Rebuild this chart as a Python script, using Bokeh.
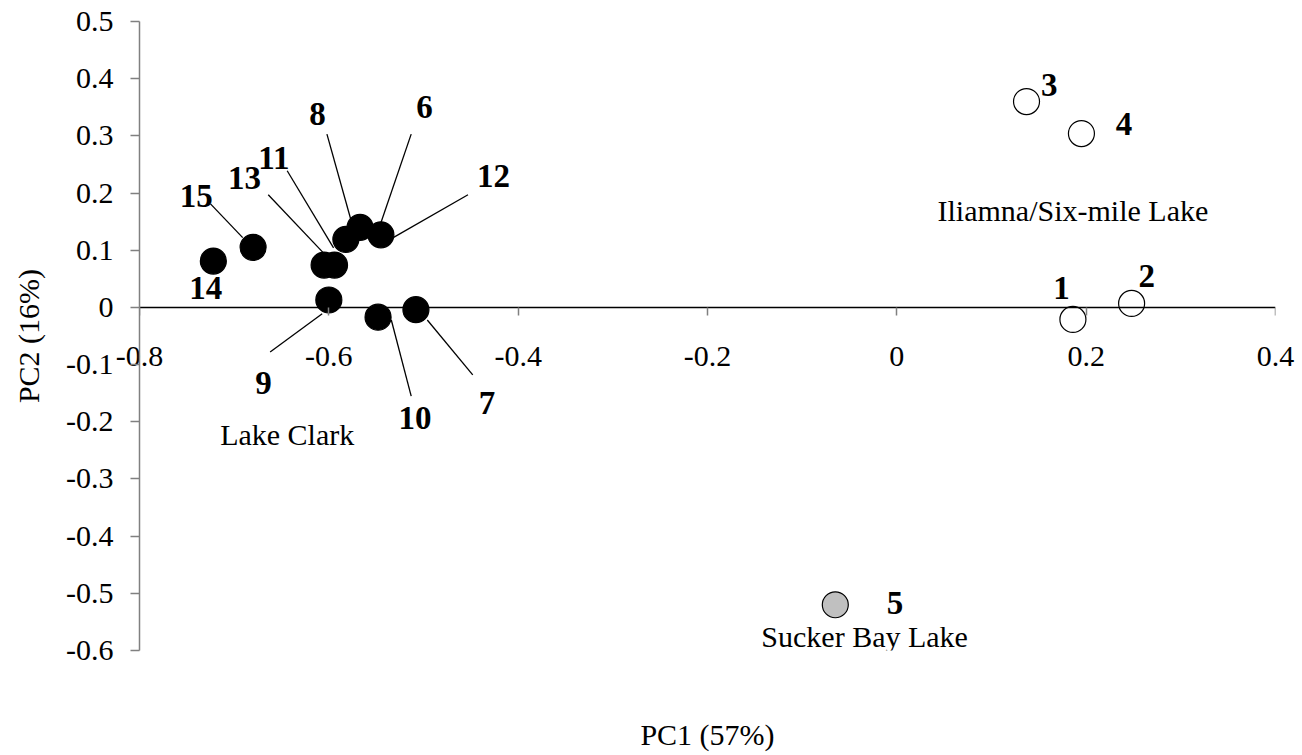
from bokeh.plotting import figure
from bokeh.models import (Range1d, LinearAxis, FixedTicker, CustomJSTickFormatter,
                          ColumnDataSource)
from bokeh.embed import file_html
from bokeh.resources import INLINE

# ---- data ----
sample_ids = ["1", "2", "3", "4", "5", "6", "7", "8", "9", "10", "11", "12", "13", "14", "15"]
pc1 = [0.186, 0.248, 0.137, 0.195, -0.065, -0.567, -0.508, -0.582, -0.600, -0.548,
       -0.594, -0.545, -0.605, -0.722, -0.680]
pc2 = [-0.021, 0.007, 0.360, 0.304, -0.520, 0.140, -0.004, 0.119, 0.013, -0.017,
       0.074, 0.127, 0.074, 0.081, 0.105]
group = ["Iliamna", "Iliamna", "Iliamna", "Iliamna", "Sucker",
         "Clark", "Clark", "Clark", "Clark", "Clark", "Clark", "Clark", "Clark", "Clark", "Clark"]

# label anchor positions (data units)
label_x = [0.174, 0.264, 0.161, 0.240, -0.002, -0.499, -0.433, -0.612, -0.669, -0.509,
           -0.658, -0.426, -0.689, -0.730, -0.740]
label_y = [0.034, 0.055, 0.389, 0.321, -0.517, 0.351, -0.167, 0.338, -0.132, -0.193,
           0.262, 0.230, 0.226, 0.034, 0.195]

# leader lines: label end -> point end
leader_ids = ["6", "7", "8", "9", "10", "11", "12", "13", "15"]
leader_x0 = [-0.513, -0.448, -0.602, -0.662, -0.513, -0.644, -0.453, -0.664, -0.725]
leader_y0 = [0.303, -0.118, 0.303, -0.078, -0.155, 0.239, 0.197, 0.197, 0.181]
leader_x1 = [-0.545, -0.496, -0.577, -0.607, -0.534, -0.595, -0.532, -0.6055, -0.691]
leader_y1 = [0.148, -0.022, 0.155, -0.011, -0.022, 0.104, 0.122, 0.095, 0.122]

group_names = ["Iliamna/Six-mile Lake", "Lake Clark", "Sucker Bay Lake"]
group_x = [0.186, -0.644, -0.034]
group_y = [0.169, -0.222, -0.575]

x_ticks = [-0.8, -0.6, -0.4, -0.2, 0.0, 0.2, 0.4]
y_ticks = [-0.6, -0.5, -0.4, -0.3, -0.2, -0.1, 0.0, 0.1, 0.2, 0.3, 0.4, 0.5]
x_title = "PC1 (57%)"
y_title = "PC2 (16%)"

FONT = "Liberation Serif"
fill_map = {"Iliamna": "white", "Sucker": "#c0c0c0", "Clark": "black"}

p = figure(frame_width=1136, frame_height=629,
           x_range=Range1d(-0.8, 0.4), y_range=Range1d(-0.6, 0.5),
           output_backend="svg", toolbar_location=None,
           x_axis_location=None, y_axis_location=None,
           min_border_left=139, min_border_right=22,
           min_border_top=21, min_border_bottom=104)
p.outline_line_color = None
p.xgrid.visible = False
p.ygrid.visible = False
p.background_fill_color = "white"
p.border_fill_color = "white"

fmt = CustomJSTickFormatter(code="return Math.abs(tick) < 1e-9 ? '0' : tick.toFixed(1);")

# ---- y axis (left edge, at x = -0.8) ----
yaxis = LinearAxis(ticker=FixedTicker(ticks=y_ticks), formatter=fmt,
                   axis_label=y_title)
yaxis.axis_line_color = "#808080"
yaxis.axis_line_width = 1.5
yaxis.major_tick_line_color = "#808080"
yaxis.major_tick_line_width = 1.5
yaxis.major_tick_out = 9
yaxis.major_tick_in = 0
yaxis.minor_tick_out = 0
yaxis.minor_tick_in = 0
yaxis.major_label_standoff = 17
yaxis.major_label_text_font = FONT
yaxis.major_label_text_font_size = "30px"
yaxis.major_label_text_color = "black"
yaxis.axis_label_text_font = FONT
yaxis.axis_label_text_font_size = "30px"
yaxis.axis_label_text_font_style = "normal"
yaxis.axis_label_text_color = "black"
yaxis.axis_label_standoff = 18
p.add_layout(yaxis, "left")

# ---- x axis tick labels + title (drawn from the frame bottom, pulled up to the y=0 line) ----
xlab = LinearAxis(ticker=FixedTicker(ticks=x_ticks), formatter=fmt, axis_label=x_title)
xlab.axis_line_color = None
xlab.major_tick_line_color = None
xlab.major_tick_out = 0
xlab.major_tick_in = 0
xlab.minor_tick_out = 0
xlab.minor_tick_in = 0
xlab.major_label_standoff = -304
xlab.major_label_text_font = FONT
xlab.major_label_text_font_size = "30px"
xlab.major_label_text_color = "black"
xlab.axis_label_text_font = FONT
xlab.axis_label_text_font_size = "30px"
xlab.axis_label_text_font_style = "normal"
xlab.axis_label_text_color = "black"
xlab.axis_label_standoff = 349
p.add_layout(xlab, "below")

# ---- x axis line and ticks at y = 0 ----
xline = LinearAxis(ticker=FixedTicker(ticks=x_ticks), formatter=fmt, fixed_location=0)
xline.axis_line_color = "black"
xline.axis_line_width = 1.3
xline.major_tick_line_color = "#808080"
xline.major_tick_line_width = 1.5
xline.major_tick_out = 8
xline.major_tick_in = 0
xline.minor_tick_out = 0
xline.minor_tick_in = 0
xline.major_label_text_font_size = "0px"
xline.major_label_text_alpha = 0
p.add_layout(xline, "below")

# leader lines
lsrc = ColumnDataSource(dict(x0=leader_x0, y0=leader_y0, x1=leader_x1, y1=leader_y1, id=leader_ids))
p.segment(x0="x0", y0="y0", x1="x1", y1="y1", source=lsrc, line_color="black", line_width=1.3)

# points
src = ColumnDataSource(dict(x=pc1, y=pc2, id=sample_ids, group=group,
                            fill=[fill_map[g] for g in group],
                            lx=label_x, ly=label_y))
p.scatter(x="x", y="y", source=src, marker="circle", size=26,
          fill_color="fill", line_color="black", line_width=1.2)

# sample number labels
p.text(x="lx", y="ly", text="id", source=src, text_font=FONT, text_font_size="33px",
       text_font_style="bold", text_align="center", text_baseline="middle", text_color="black")

# group labels
gsrc = ColumnDataSource(dict(x=group_x, y=group_y, t=group_names))
p.text(x="x", y="y", text="t", source=gsrc, text_font=FONT, text_font_size="30px",
       text_align="center", text_baseline="middle", text_color="black")

open("out.html", "w").write(file_html(p, INLINE))
